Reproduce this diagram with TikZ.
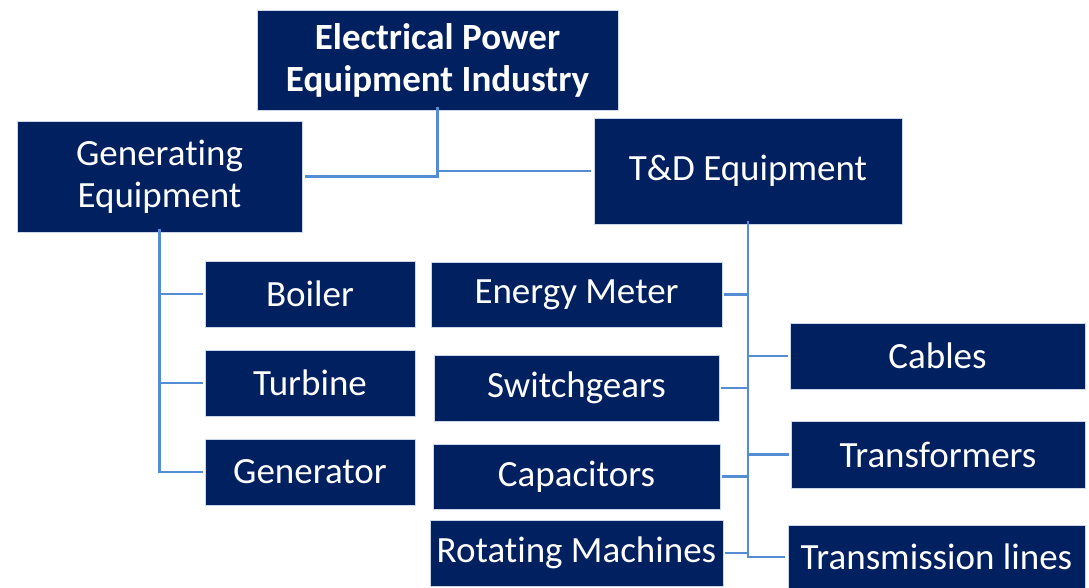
\documentclass[tikz,border=0pt]{standalone}
\usepackage{fontspec}
\setmainfont{Carlito}[Ligatures={NoCommon}]
\definecolor{boxblue}{RGB}{0,32,96}
\definecolor{boxedge}{RGB}{205,215,235}
\definecolor{linkblue}{RGB}{84,141,212}
\begin{document}
\begin{tikzpicture}[x=1pt,y=-1pt,
  box/.style={fill=boxblue,draw=boxedge,line width=0.8pt,text=white,align=center,
    inner sep=0pt,outer sep=0pt,font=\fontsize{37}{42}\selectfont},
  link/.style={draw=linkblue,line width=2.2pt}]
\useasboundingbox (0,0) rectangle (1089,588);
% top level
\node[box,minimum width=361pt,minimum height=100pt,font=\fontsize{37}{42}\selectfont\bfseries] (top) at (437.5,60) {Electrical Power\\Equipment Industry};
\node[box,minimum width=285pt,minimum height=111pt] (gen) at (159.5,176.5) {Generating\\Equipment};
\node[box,minimum width=308pt,minimum height=106pt] (td) at (748,171) {T\&D Equipment};
% generating
\node[box,minimum width=210pt,minimum height=66pt] (boiler) at (310,294) {Boiler};
\node[box,minimum width=210pt,minimum height=66pt] (turbine) at (310,383) {Turbine};
\node[box,minimum width=210pt,minimum height=66pt] (generator) at (310,472) {Generator};
% T&D left
\node[box,minimum width=291pt,minimum height=65pt] (energy) at (576.5,294.5) {Energy Meter};
\node[box,minimum width=285pt,minimum height=66pt] (switch) at (576.5,388) {Switchgears};
\node[box,minimum width=287pt,minimum height=65pt] (cap) at (576.5,476.5) {Capacitors};
\node[box,minimum width=293pt,minimum height=66pt] (rot) at (576.5,553) {Rotating Machines};
% T&D right
\node[box,minimum width=295pt,minimum height=66pt] (cables) at (937.5,356) {Cables};
\node[box,minimum width=294pt,minimum height=67pt] (trans) at (938,454.5) {Transformers};
\node[box,minimum width=297pt,minimum height=64pt] (tl) at (936.5,557) {Transmission lines};
% connectors top
\coordinate (topdown) at ([yshift=3pt]top.south);
\draw[link] (topdown) -- (topdown |- gen.east) -- ([xshift=3pt]gen.east);
\draw[link] (topdown |- td.west) -- ([xshift=-3pt]td.west);
% generating tree
\coordinate (gdown) at ([yshift=3pt]gen.south);
\draw[link] (gdown) -- (gdown |- generator.west) -- ([xshift=-2pt]generator.west);
\draw[link] (gdown |- boiler.west) -- ([xshift=-2pt]boiler.west);
\draw[link] (gdown |- turbine.west) -- ([xshift=-2pt]turbine.west);
% T&D tree
\coordinate (tdown) at ([yshift=3pt]td.south);
\draw[link] (tdown) -- (tdown |- tl.west) -- ([xshift=-3pt]tl.west);
\draw[link] (tdown |- energy.east) -- ([xshift=2pt]energy.east);
\draw[link] (tdown |- switch.east) -- ([xshift=2pt]switch.east);
\draw[link] (tdown |- cap.east) -- ([xshift=2pt]cap.east);
\draw[link] (tdown |- rot.east) -- ([xshift=2pt]rot.east);
\draw[link] (tdown |- cables.west) -- ([xshift=-2pt]cables.west);
\draw[link] (tdown |- trans.west) -- ([xshift=-2pt]trans.west);
\end{tikzpicture}
\end{document}
